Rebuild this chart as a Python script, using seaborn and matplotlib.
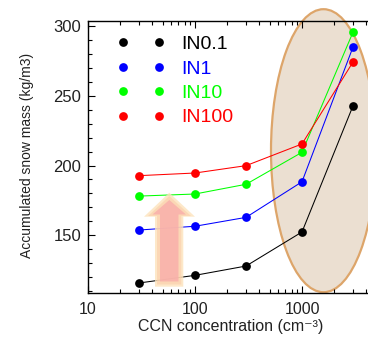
import numpy as np
import pandas as pd
import matplotlib
matplotlib.use("Agg")
import matplotlib.pyplot as plt
import matplotlib.ticker as mticker
from matplotlib.patches import Ellipse, Polygon
from matplotlib.lines import Line2D
import seaborn as sns

# ---- data ----
ccn = [30, 100, 300, 1000, 3000]
in0_1 = [115.5, 121.0, 127.7, 152.2, 243.0]
in1 = [153.6, 156.3, 162.7, 188.3, 285.3]
in10 = [178.0, 179.5, 186.5, 209.5, 296.0]
in100 = [192.7, 194.6, 199.9, 215.5, 274.5]
series_names = ["IN0.1", "IN1", "IN10", "IN100"]
series_colors = ["#000000", "#0000FF", "#00FF00", "#FF0000"]
x_ticks = [10, 100, 1000]
y_ticks = [150, 200, 250, 300]

df = pd.concat([
    pd.DataFrame({"ccn": ccn, "mass": vals, "series": name})
    for name, vals in zip(series_names, [in0_1, in1, in10, in100])
], ignore_index=True)

sns.set_style("ticks")
plt.rcParams["font.family"] = ["Liberation Sans", "DejaVu Sans"]

W, H = 368, 338
fig = plt.figure(figsize=(W / 100, H / 100), dpi=100)

def fx(px):
    return px / W

def fy(py):
    return 1 - py / H

left, right, top, bottom = 88, 368, 20.5, 293
ax = fig.add_axes([fx(left), fy(bottom), fx(right - left), (bottom - top) / H])

# highlight ellipse (behind the lines)
ell = Ellipse((fx(323.5), fy(150.7)), 105 / W, 283 / H, transform=fig.transFigure,
              facecolor="#EBDFD1", edgecolor="#DDA56A", linewidth=1.6,
              clip_on=False, zorder=0.5)
ax.add_patch(ell)

sns.lineplot(data=df, x="ccn", y="mass", hue="series", hue_order=series_names,
             palette=series_colors, marker="o", markersize=6.3, markeredgewidth=0,
             linewidth=0.75, legend=False, ax=ax, zorder=2)

ax.set_xscale("log")
ax.set_xlim(10, 10 ** (1 + (right - left) / 107))
ax.set_ylim(108.3, 304.3)

# arrow (annotation)
outer = [(169.3, 192.7), (195, 216.7), (183.3, 216.7), (183.3, 286.7),
         (155, 286.7), (155, 216.7), (144, 216.7)]
mid = [(169.3, 196), (191, 216), (181.3, 216), (181.3, 284.5),
       (157, 284.5), (157, 216), (148, 216)]
inner = [(169.3, 200), (186, 214.5), (178.5, 214.5), (178.5, 281.5),
         (160, 281.5), (160, 214.5), (152.5, 214.5)]
for pts, col, a, z in [(outer, "#FDE3BC", 0.8, 3.0), (mid, "#FBCDA8", 0.6, 3.05),
                       (inner, "#F9AAAA", 0.75, 3.1)]:
    ax.add_patch(Polygon([(fx(p), fy(q)) for p, q in pts], closed=True,
                         transform=fig.transFigure, facecolor=col,
                         edgecolor="none", alpha=a, zorder=z, clip_on=False))

# axes styling
ax.spines["right"].set_visible(False)
for s in ["left", "bottom", "top"]:
    ax.spines[s].set_linewidth(1.0)
    ax.spines[s].set_color("black")
ax.set_xticks(x_ticks)
ax.xaxis.set_major_formatter(mticker.FuncFormatter(lambda v, p: f"{v:g}"))
ax.xaxis.set_minor_locator(mticker.LogLocator(base=10, subs=np.arange(2, 10)))
ax.xaxis.set_minor_formatter(mticker.NullFormatter())
ax.set_yticks(y_ticks)
ax.yaxis.set_minor_locator(mticker.MultipleLocator(10))
ax.tick_params(axis="x", which="both", direction="in", top=True, bottom=True,
               labelsize=11.5, pad=6.5, colors="black")
ax.tick_params(axis="y", which="both", direction="in", left=True, right=False,
               labelsize=12, pad=5, colors="black")
ax.tick_params(which="major", length=5, width=0.8)
ax.tick_params(which="minor", length=3, width=0.8)
for lab in ax.get_xticklabels() + ax.get_yticklabels():
    lab.set_color("#222222")

ax.set_xlabel("CCN concentration (cm\u207b\u00b3)", fontsize=11.5, color="#222222")
ax.set_ylabel("Accumulated snow mass (kg/m3)", fontsize=10, color="#222222")
ax.xaxis.set_label_coords((231 - left) / (right - left), -(318.5 - bottom) / (bottom - top))
ax.yaxis.set_label_coords(-(left - 34) / (right - left), (bottom - 155) / (bottom - top))

handles = [Line2D([], [], color=c, marker="o", linestyle="none", markersize=6.3,
                  markeredgewidth=0) for c in series_colors]
leg = ax.legend(handles, series_names, loc="upper left",
                bbox_to_anchor=(fx(117.2), fy(35.5)), bbox_transform=fig.transFigure,
                frameon=False, numpoints=2, handlelength=2.46, handletextpad=0.83,
                fontsize=14, labelspacing=0.35, borderpad=0, borderaxespad=0)
for txt, c in zip(leg.get_texts(), series_colors):
    txt.set_color(c)
leg.set_zorder(5)

fig.savefig("out.png", dpi=100)
